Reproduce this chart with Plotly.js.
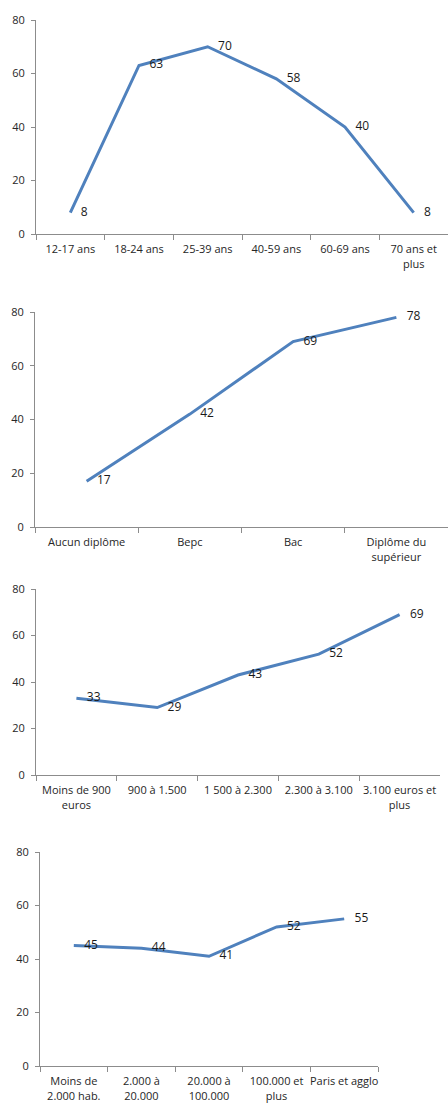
<!DOCTYPE html>
<html>
<head>
<meta charset="utf-8">
<script src="https://cdn.plot.ly/plotly-3.0.1.min.js"></script>
<style>html,body{margin:0;padding:0;background:#fff;}#chart{width:448px;height:1103px;}</style>
</head>
<body>
<div id="chart"></div>
<script>
// Chart 1: age
const ageCategories = ["12-17 ans", "18-24 ans", "25-39 ans", "40-59 ans", "60-69 ans", "70 ans et<br>plus"];
const ageValues = [8, 63, 70, 58, 40, 8];
// Chart 2: diploma
const diplomaCategories = ["Aucun diplôme", "Bepc", "Bac", "Diplôme du<br>supérieur"];
const diplomaValues = [17, 42, 69, 78];
// Chart 3: income
const incomeCategories = ["Moins de 900<br>euros", "900 à 1.500", "1 500 à 2.300", "2.300 à 3.100", "3.100 euros et<br>plus"];
const incomeValues = [33, 29, 43, 52, 69];
// Chart 4: town size
const townCategories = ["Moins de<br>2.000 hab.", "2.000 à<br>20.000", "20.000 à<br>100.000", "100.000 et<br>plus", "Paris et agglo"];
const townValues = [45, 44, 41, 52, 55];
const yTicks = [0, 20, 40, 60, 80];

const W = 448, H = 1103;
const LINE = "#4F81BD";
const AXIS = "#8C8C8C";
const FONT = "Open Sans";

const panels = [
  {cats: ageCategories, vals: ageValues, x0: 36, x1: 448, top: 20, bottom: 234},
  {cats: diplomaCategories, vals: diplomaValues, x0: 35, x1: 448, top: 312, bottom: 527},
  {cats: incomeCategories, vals: incomeValues, x0: 36, x1: 440, top: 589, bottom: 775},
  {cats: townCategories, vals: townValues, x0: 40, x1: 378, top: 852, bottom: 1066}
];

const data = [];
const layout = {
  width: W, height: H,
  margin: {l: 0, r: 0, t: 0, b: 0},
  paper_bgcolor: "#fff", plot_bgcolor: "rgba(0,0,0,0)",
  showlegend: false,
  font: {family: FONT, size: 11, color: "#262626"}
};

panels.forEach((p, i) => {
  const n = i === 0 ? "" : String(i + 1);
  data.push({
    type: "scatter",
    mode: "lines+markers+text",
    x: p.cats, y: p.vals,
    xaxis: "x" + n, yaxis: "y" + n,
    line: {color: LINE, width: 3},
    marker: {size: 15, opacity: 0, color: LINE},
    text: p.vals.map(String),
    textposition: "middle right",
    textfont: {family: FONT, size: 12, color: "#1a1a1a"},
    cliponaxis: false,
    hoverinfo: "skip"
  });
  layout["xaxis" + n] = {
    domain: [p.x0 / W, Math.min(1, p.x1 / W)],
    anchor: "y" + n,
    type: "category",
    range: [-0.5, p.cats.length - 0.5],
    showline: true, linecolor: AXIS, linewidth: 1,
    ticks: "outside", ticklen: 5, tickcolor: AXIS, tickson: "boundaries",
    tickangle: 0,
    showgrid: false, zeroline: false,
    tickfont: {family: FONT, size: 11, color: "#262626"},
    ticklabelstandoff: 5,
    fixedrange: true
  };
  layout["yaxis" + n] = {
    domain: [1 - p.bottom / H, 1 - p.top / H],
    anchor: "x" + n,
    range: [0, 80],
    tickvals: yTicks,
    showline: true, linecolor: AXIS, linewidth: 1,
    ticks: "outside", ticklen: 4, tickcolor: AXIS,
    showgrid: false, zeroline: false,
    tickfont: {family: FONT, size: 11, color: "#262626"},
    ticklabelstandoff: 4,
    fixedrange: true
  };
});

Plotly.newPlot("chart", data, layout, {displayModeBar: false, staticPlot: true});
</script>
</body>
</html>
